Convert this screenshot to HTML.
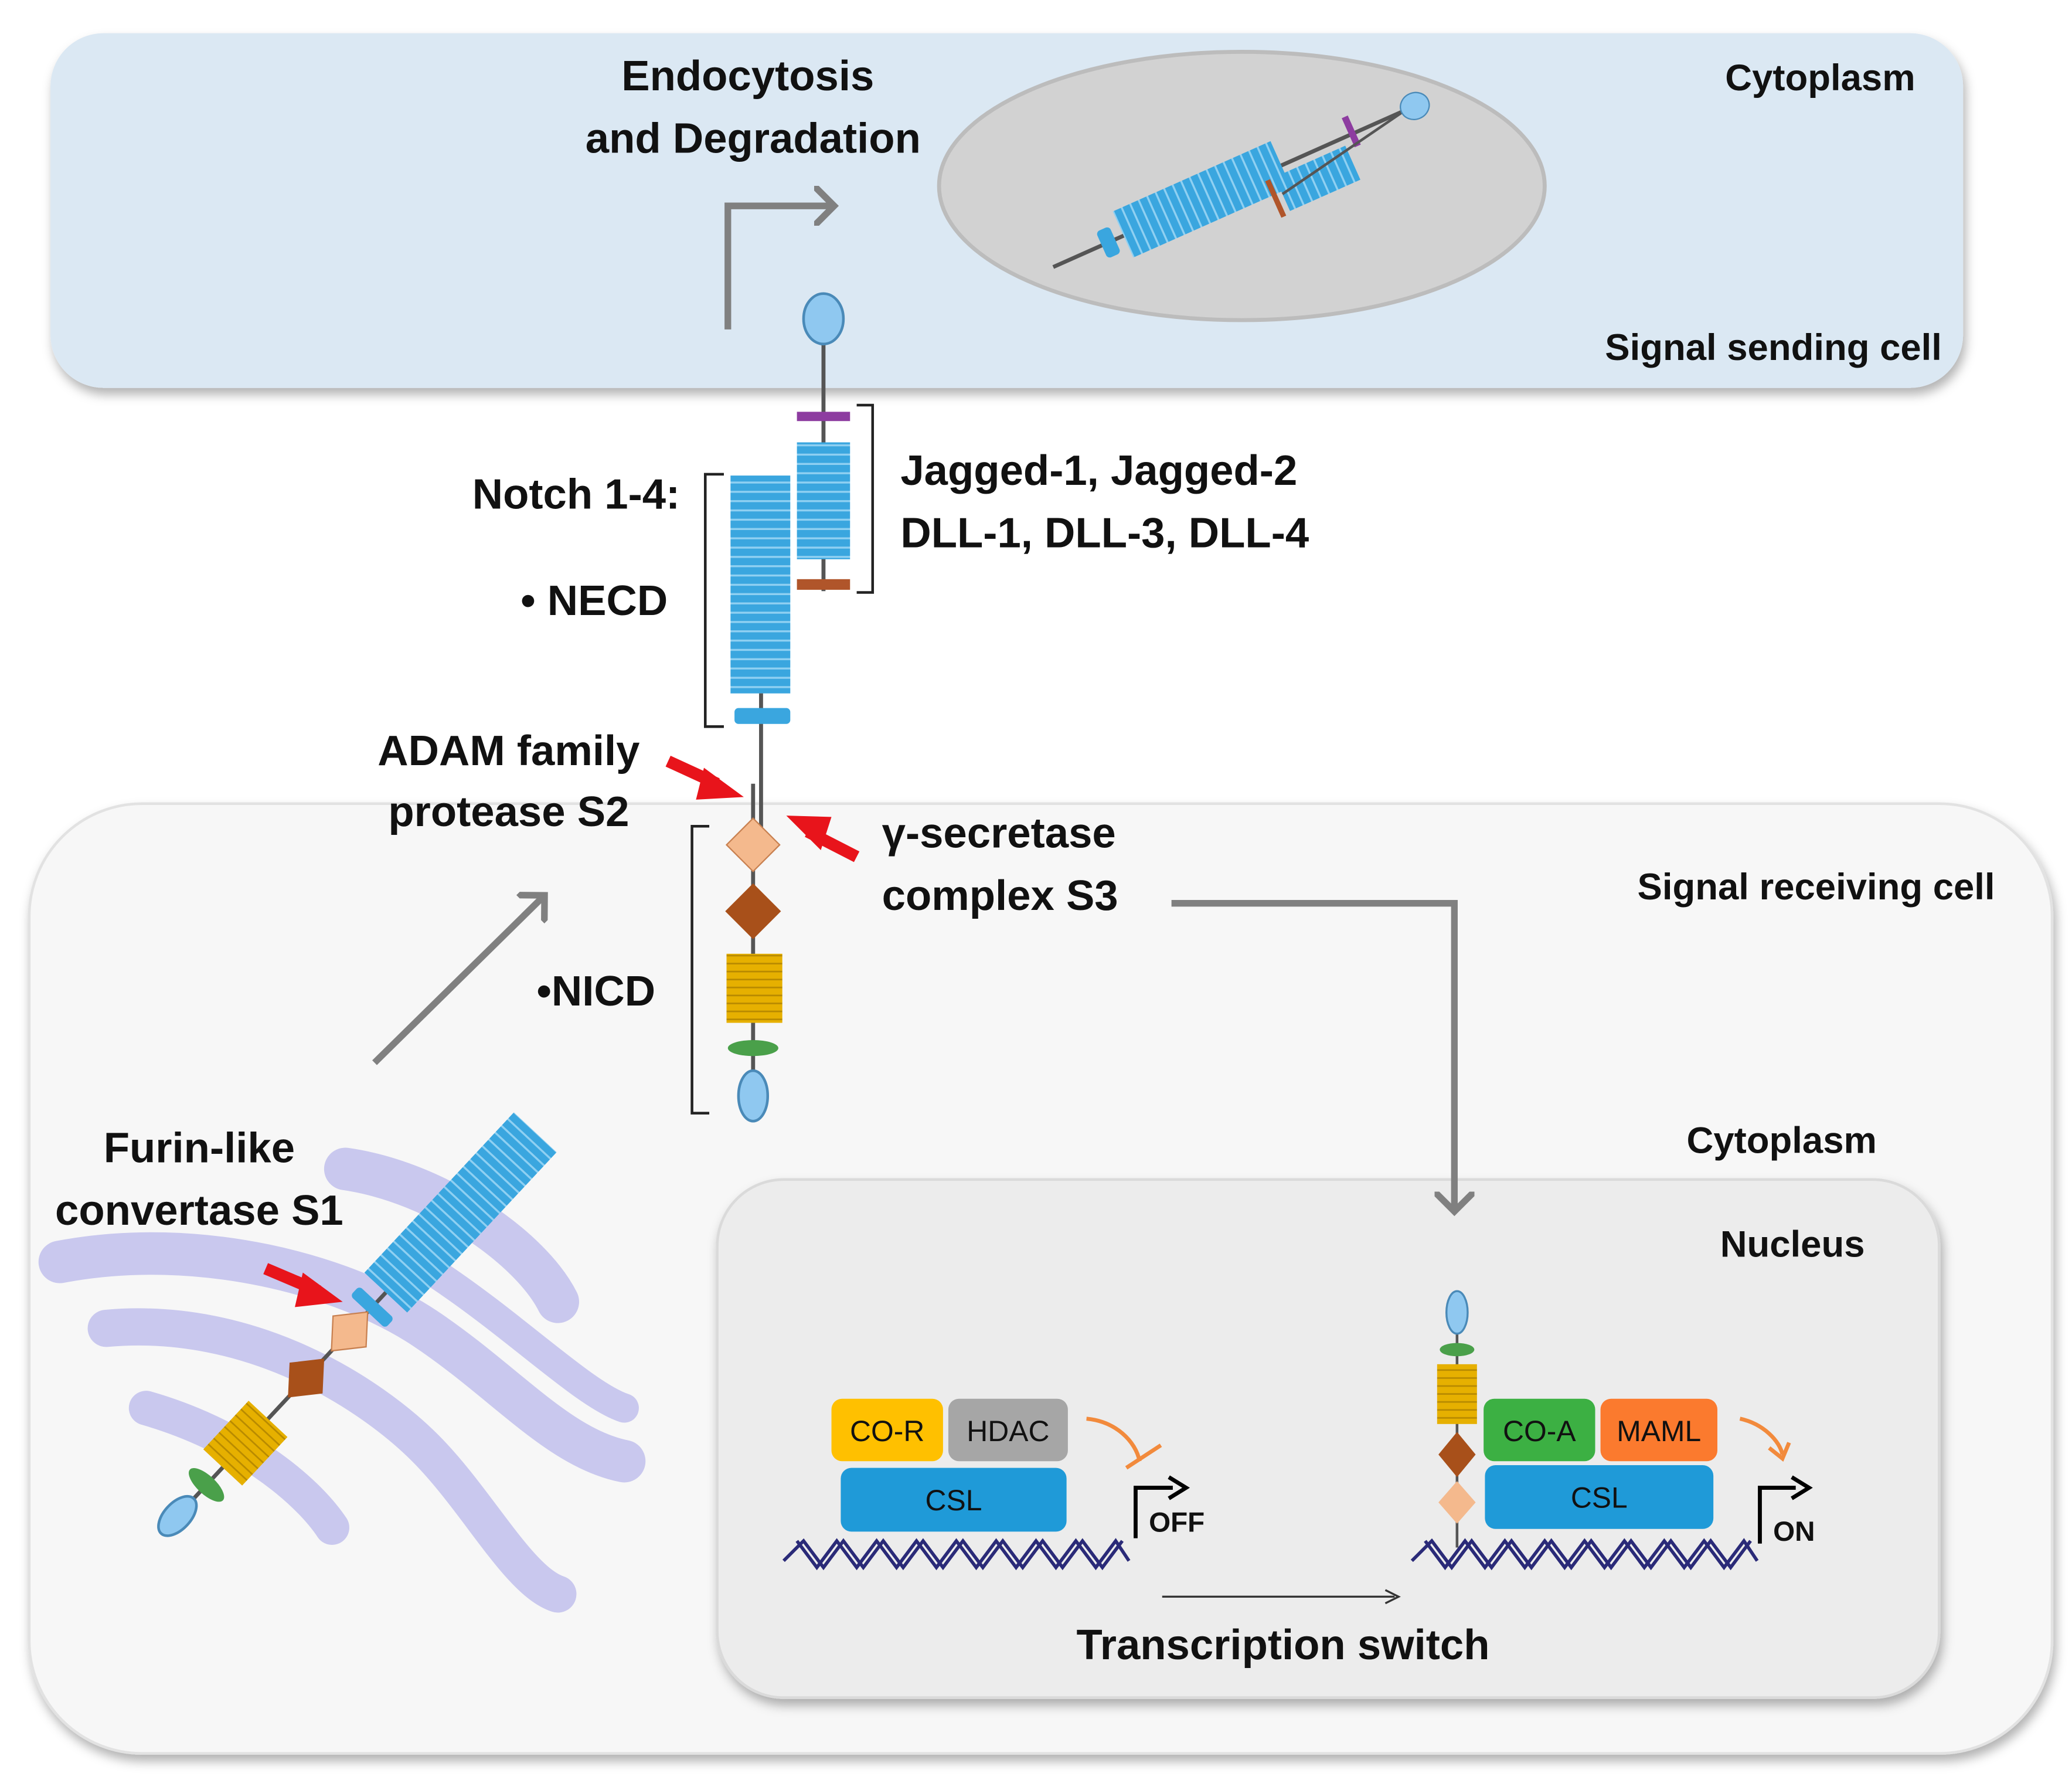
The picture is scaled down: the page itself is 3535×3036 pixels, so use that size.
<!DOCTYPE html>
<html><head><meta charset="utf-8"><style>
html,body{margin:0;padding:0;background:#fff;}
svg{display:block;}
text{font-family:"Liberation Sans",sans-serif;font-weight:bold;fill:#111;}
</style></head><body>
<svg width="3535" height="3036" viewBox="0 0 1560 1340" preserveAspectRatio="none" xmlns="http://www.w3.org/2000/svg">
<defs>
<pattern id="bs" width="10" height="7" patternUnits="userSpaceOnUse"><rect width="10" height="7" fill="#3aa6df"/><rect y="5.5" width="10" height="1.5" fill="#8fd0f2"/></pattern>
<pattern id="bv" width="7" height="10" patternUnits="userSpaceOnUse"><rect width="7" height="10" fill="#3aa6df"/><rect x="5.5" width="1.5" height="10" fill="#8fd0f2"/></pattern>
<pattern id="ys" width="10" height="6" patternUnits="userSpaceOnUse"><rect width="10" height="6" fill="#e6b000"/><rect y="4.8" width="10" height="1.2" fill="#b88a00"/></pattern>
<pattern id="yv" width="6" height="10" patternUnits="userSpaceOnUse"><rect width="6" height="10" fill="#e6b000"/><rect x="4.8" width="1.2" height="10" fill="#b88a00"/></pattern>
<filter id="sh" x="-5%" y="-5%" width="110%" height="115%"><feDropShadow dx="2" dy="5" stdDeviation="4" flood-color="#000" flood-opacity="0.3"/></filter>
<marker id="ga" markerWidth="6" markerHeight="6" refX="3" refY="3" orient="auto" markerUnits="strokeWidth"><path d="M0,0 L3,3 L0,6" fill="none" stroke="#808080" stroke-width="1"/></marker>
</defs>
<rect width="1560" height="1340" fill="#fff"/>
<rect x="38" y="25" width="1440" height="267" rx="40" fill="#dbe8f3" filter="url(#sh)"/>
<rect x="22" y="605" width="1523" height="715" rx="85" fill="#f7f7f7" stroke="#e2e2e2" stroke-width="2" filter="url(#sh)"/>
<rect x="540" y="888" width="920" height="390" rx="50" fill="#ececec" stroke="#dadada" stroke-width="2" filter="url(#sh)"/>
<ellipse cx="935" cy="140" rx="228" ry="101" fill="#d2d2d2" stroke="#bcbcbc" stroke-width="3"/>
<!-- endocytosed complex -->
<g transform="translate(930,140) rotate(-24)">
<line x1="-150" y1="0" x2="140" y2="0" stroke="#555" stroke-width="3"/>
<rect x="-110" y="-11" width="11" height="22" fill="#3aa6df" rx="3"/>
<rect x="-92" y="-20" width="130" height="38" fill="url(#bv)"/>
<rect x="30" y="6" width="58" height="28" fill="url(#bv)"/>
<rect x="22" y="6" width="4" height="30" fill="#b0552a"/>
<rect x="94" y="-14" width="5" height="24" fill="#8d3ca0"/>
<line x1="30" y1="20" x2="140" y2="0" stroke="#555" stroke-width="2"/>
<ellipse cx="148" cy="0" rx="11" ry="10" fill="#8fc8f0" stroke="#4a8ab8"/>
</g>
<text x="563" y="68" font-size="32" text-anchor="middle">Endocytosis</text>
<text x="567" y="115" font-size="32" text-anchor="middle">and Degradation</text>
<text x="1442" y="68" font-size="28" text-anchor="end">Cytoplasm</text>
<text x="1462" y="271" font-size="28" text-anchor="end">Signal sending cell</text>
<path d="M548,248 L548,155 L628,155" fill="none" stroke="#808080" stroke-width="5" marker-end="url(#ga)"/>
<line x1="620" y1="255" x2="620" y2="445" stroke="#555" stroke-width="3"/>
<ellipse cx="620" cy="240" rx="15" ry="19" fill="#8fc8f0" stroke="#4a8ab8" stroke-width="2"/>
<rect x="600" y="310" width="40" height="7" fill="#8d3ca0"/>
<rect x="600" y="333" width="40" height="88" fill="url(#bs)"/>
<rect x="600" y="436" width="40" height="8" fill="#b0552a"/>
<rect x="550" y="358" width="45" height="164" fill="url(#bs)"/>
<line x1="573" y1="522" x2="573" y2="625" stroke="#555" stroke-width="3"/>
<rect x="553" y="533" width="42" height="12" rx="3" fill="#3aa6df"/>
<path d="M545,357 L531,357 L531,547 L545,547" fill="none" stroke="#222" stroke-width="2"/>
<path d="M645,305 L657,305 L657,446 L645,446" fill="none" stroke="#222" stroke-width="2"/>
<path d="M534,622 L521,622 L521,838 L534,838" fill="none" stroke="#222" stroke-width="2"/>
<text x="512" y="383" font-size="32" text-anchor="end">Notch 1-4:</text>
<text x="392" y="463" font-size="32">• NECD</text>
<text x="678" y="365" font-size="32">Jagged-1, Jagged-2</text>
<text x="678" y="412" font-size="32">DLL-1, DLL-3, DLL-4</text>
<text x="383" y="576" font-size="32" text-anchor="middle">ADAM family</text>
<text x="383" y="622" font-size="32" text-anchor="middle">protease S2</text>
<text x="664" y="638" font-size="32">γ-secretase</text>
<text x="664" y="685" font-size="32">complex S3</text>
<text x="1502" y="677" font-size="28" text-anchor="end">Signal receiving cell</text>
<text x="404" y="757" font-size="32">•NICD</text>
<text x="1413" y="868" font-size="28" text-anchor="end">Cytoplasm</text>
<text x="1404" y="946" font-size="28" text-anchor="end">Nucleus</text>
<path d="M503,573 L540,590" stroke="#e8141b" stroke-width="9"/><path d="M530,578 L560,600 L524,602 Z" fill="#e8141b"/>
<path d="M645,645 L608,626" stroke="#e8141b" stroke-width="9"/><path d="M618,640 L592,614 L626,615 Z" fill="#e8141b"/>
<line x1="567" y1="590" x2="567" y2="830" stroke="#555" stroke-width="3"/>
<path d="M567,616 L587,636 L567,656 L547,636 Z" fill="#f4b98d" stroke="#c88050"/>
<path d="M567,665 L588,686 L567,707 L546,686 Z" fill="#a8501a"/>
<rect x="547" y="718" width="42" height="52" fill="url(#ys)"/>
<ellipse cx="567" cy="789" rx="19" ry="6" fill="#4aa04a"/>
<ellipse cx="567" cy="825" rx="11" ry="19" fill="#8fc8f0" stroke="#4a8ab8" stroke-width="2"/>
<path d="M882,680 L1095,680 L1095,912" fill="none" stroke="#808080" stroke-width="5" marker-end="url(#ga)"/>
<path d="M282,800 L410,674" fill="none" stroke="#808080" stroke-width="5" marker-end="url(#ga)"/>
<!-- ER -->
<g fill="none" stroke="#c9c8ee" stroke-linecap="round">
<path d="M45,950 C150,930 260,960 320,1000 C380,1040 420,1090 470,1100" stroke-width="32"/>
<path d="M80,1000 C190,990 280,1050 320,1090 C360,1130 390,1190 420,1200" stroke-width="28"/>
<path d="M110,1060 C180,1080 230,1120 250,1150" stroke-width="26"/>
<path d="M260,880 C330,890 400,940 420,980" stroke-width="32"/>
<path d="M330,960 C390,1000 440,1050 470,1060" stroke-width="22"/>
</g>
<g transform="translate(270,995) rotate(-47)">
<line x1="-200" y1="0" x2="50" y2="0" stroke="#555" stroke-width="3"/>
<rect x="30" y="-22" width="165" height="44" fill="url(#bv)"/>
<rect x="10" y="-18" width="10" height="36" rx="3" fill="#3aa6df"/>
<path d="M-20,0 L0,-17 L20,0 L0,17 Z" fill="#f4b98d" stroke="#c88050" transform="translate(-10,0)"/>
<path d="M-20,0 L0,-17 L20,0 L0,17 Z" fill="#a8501a" transform="translate(-58,0)"/>
<rect x="-150" y="-20" width="50" height="40" fill="url(#yv)"/>
<ellipse cx="-168" cy="0" rx="7" ry="17" fill="#4aa04a"/>
<ellipse cx="-200" cy="0" rx="18" ry="10" fill="#8fc8f0" stroke="#4a8ab8" stroke-width="2"/>
</g>
<path d="M200,955 L240,972" stroke="#e8141b" stroke-width="9"/><path d="M228,958 L258,980 L222,984 Z" fill="#e8141b"/>
<text x="150" y="875" font-size="32" text-anchor="middle">Furin-like</text>
<text x="150" y="922" font-size="32" text-anchor="middle">convertase S1</text>
<rect x="626" y="1053" width="84" height="47" rx="8" fill="#ffc000"/>
<rect x="714" y="1053" width="90" height="47" rx="8" fill="#a6a6a6"/>
<rect x="633" y="1105" width="170" height="48" rx="8" fill="#1f9ad8"/>
<text x="668" y="1085" font-size="22" text-anchor="middle" style="font-weight:normal">CO-R</text>
<text x="759" y="1085" font-size="22" text-anchor="middle" style="font-weight:normal">HDAC</text>
<text x="718" y="1137" font-size="22" text-anchor="middle" style="font-weight:normal">CSL</text>
<path d="M818,1068 C840,1070 855,1085 858,1100" fill="none" stroke="#f28a3c" stroke-width="3"/>
<path d="M848,1105 L874,1088" stroke="#f28a3c" stroke-width="3"/>
<path d="M855,1158 L855,1120 L883,1120" fill="none" stroke="#000" stroke-width="3"/><path d="M880,1112 L893,1120 L880,1128" fill="none" stroke="#000" stroke-width="3"/>
<text x="865" y="1153" font-size="21">OFF</text>
<path d="M590,1175 L605,1160 L620,1180 L635,1160 L650,1180 L665,1160 L680,1180 L695,1160 L710,1180 L725,1160 L740,1180 L755,1160 L770,1180 L785,1160 L800,1180 L815,1160 L830,1180 L845,1160" fill="none" stroke="#2a2a78" stroke-width="2.5"/>
<path d="M600,1160 L615,1180 L630,1160 L645,1180 L660,1160 L675,1180 L690,1160 L705,1180 L720,1160 L735,1180 L750,1160 L765,1180 L780,1160 L795,1180 L810,1160 L825,1180 L840,1160 L850,1175" fill="none" stroke="#2a2a78" stroke-width="2.5"/>
<rect x="1117" y="1053" width="84" height="47" rx="8" fill="#3cb043"/>
<rect x="1205" y="1053" width="88" height="47" rx="8" fill="#fb7a2e"/>
<rect x="1118" y="1103" width="172" height="48" rx="8" fill="#1f9ad8"/>
<text x="1159" y="1085" font-size="22" text-anchor="middle" style="font-weight:normal">CO-A</text>
<text x="1249" y="1085" font-size="22" text-anchor="middle" style="font-weight:normal">MAML</text>
<text x="1204" y="1135" font-size="22" text-anchor="middle" style="font-weight:normal">CSL</text>
<line x1="1097" y1="1000" x2="1097" y2="1165" stroke="#555" stroke-width="2"/>
<ellipse cx="1097" cy="988" rx="8" ry="16" fill="#8fc8f0" stroke="#4a8ab8" stroke-width="1.5"/>
<ellipse cx="1097" cy="1016" rx="13" ry="5" fill="#4aa04a"/>
<rect x="1082" y="1027" width="30" height="45" fill="url(#ys)"/>
<path d="M1097,1078 L1111,1095 L1097,1112 L1083,1095 Z" fill="#a8501a"/>
<path d="M1097,1115 L1111,1131 L1097,1147 L1083,1131 Z" fill="#f4b98d"/>
<path d="M1310,1068 C1328,1072 1340,1085 1342,1095" fill="none" stroke="#f28a3c" stroke-width="3"/>
<path d="M1332,1090 L1342,1098 L1347,1086" fill="none" stroke="#f28a3c" stroke-width="3"/>
<path d="M1325,1162 L1325,1120 L1352,1120" fill="none" stroke="#000" stroke-width="3"/><path d="M1349,1112 L1362,1120 L1349,1128" fill="none" stroke="#000" stroke-width="3"/>
<text x="1335" y="1160" font-size="21">ON</text>
<path d="M1063,1175 L1078,1160 L1093,1180 L1108,1160 L1123,1180 L1138,1160 L1153,1180 L1168,1160 L1183,1180 L1198,1160 L1213,1180 L1228,1160 L1243,1180 L1258,1160 L1273,1180 L1288,1160 L1303,1180 L1318,1160" fill="none" stroke="#2a2a78" stroke-width="2.5"/>
<path d="M1073,1160 L1088,1180 L1103,1160 L1118,1180 L1133,1160 L1148,1180 L1163,1160 L1178,1180 L1193,1160 L1208,1180 L1223,1160 L1238,1180 L1253,1160 L1268,1180 L1283,1160 L1298,1180 L1313,1160 L1323,1175" fill="none" stroke="#2a2a78" stroke-width="2.5"/>
<line x1="875" y1="1202" x2="1050" y2="1202" stroke="#333" stroke-width="1.5"/><path d="M1043,1197 L1053,1202 L1043,1207" fill="none" stroke="#333" stroke-width="1.5"/>
<text x="966" y="1249" font-size="32" text-anchor="middle">Transcription switch</text>
</svg>
</body></html>
